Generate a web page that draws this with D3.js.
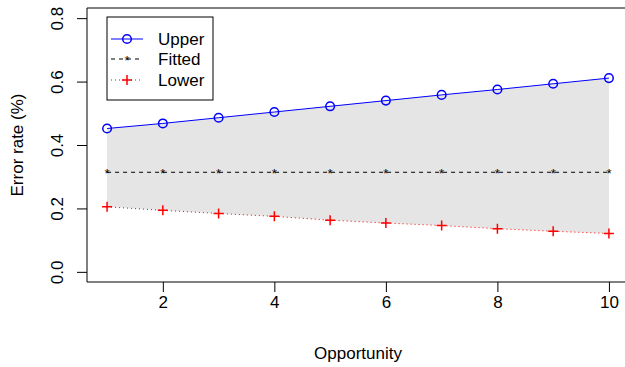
<!DOCTYPE html>
<html>
<head>
<meta charset="utf-8">
<script src="https://cdn.jsdelivr.net/npm/d3@7"></script>
<style>
  body { margin: 0; background: #fff; }
  text { font-family: "Liberation Sans", Arial, sans-serif; fill: #000; }
</style>
</head>
<body>
<div id="chart"></div>
<script>
// values
const opportunity = [1, 2, 3, 4, 5, 6, 7, 8, 9, 10];
const upper  = [0.452, 0.468, 0.486, 0.504, 0.522, 0.540, 0.558, 0.575, 0.593, 0.611];
const fitted = [0.314, 0.314, 0.314, 0.314, 0.314, 0.314, 0.314, 0.314, 0.314, 0.314];
const lower  = [0.205, 0.194, 0.184, 0.175, 0.163, 0.154, 0.146, 0.136, 0.128, 0.121];
const xTicks = [2, 4, 6, 8, 10];
const yTicks = [0.0, 0.2, 0.4, 0.6, 0.8];
const legendLabels = ["Upper", "Fitted", "Lower"];

const width = 625, height = 367;
const margin = { top: 8, right: -4, bottom: 85, left: 87 };
const fontSize = "17px";

const svg = d3.select("#chart").append("svg")
    .attr("width", width)
    .attr("height", height);

// R style padding of 4% on both axes
const xScale = d3.scaleLinear()
    .domain([0.64, 10.36])
    .range([margin.left, width - margin.right]);

const yScale = d3.scaleLinear()
    .domain([-0.032, 0.832])
    .range([height - margin.bottom, margin.top]);

// grey band between lower and upper
const band = d3.area()
    .x((d, i) => xScale(opportunity[i]))
    .y0((d, i) => yScale(lower[i]))
    .y1(d => yScale(d));

svg.append("path")
    .datum(upper)
    .attr("d", band)
    .attr("fill", "#e5e5e5");

const line = d3.line()
    .x((d, i) => xScale(opportunity[i]))
    .y(d => yScale(d));

// fitted
svg.append("path")
    .datum(fitted)
    .attr("d", line)
    .attr("fill", "none")
    .attr("stroke", "#000")
    .attr("stroke-width", 1)
    .attr("stroke-dasharray", "4,4");

svg.selectAll(".star")
    .data(fitted)
    .enter().append("text")
    .attr("class", "star")
    .attr("x", (d, i) => xScale(opportunity[i]))
    .attr("y", d => yScale(d) + 6)
    .attr("text-anchor", "middle")
    .style("font-size", "13px")
    .text("*");

// lower
svg.append("path")
    .datum(lower)
    .attr("d", line)
    .attr("fill", "none")
    .attr("stroke", "red")
    .attr("stroke-width", 1)
    .attr("stroke-dasharray", "1,3");

function drawPlus(g, x, y) {
    g.append("path")
        .attr("d", `M${x - 5},${y}H${x + 5}M${x},${y - 5}V${y + 5}`)
        .attr("stroke", "red")
        .attr("stroke-width", 1.5)
        .attr("fill", "none");
}
const plusG = svg.append("g");
lower.forEach((d, i) => drawPlus(plusG, xScale(opportunity[i]), yScale(d)));

// upper
svg.append("path")
    .datum(upper)
    .attr("d", line)
    .attr("fill", "none")
    .attr("stroke", "blue")
    .attr("stroke-width", 1);

svg.selectAll(".dot")
    .data(upper)
    .enter().append("circle")
    .attr("class", "dot")
    .attr("cx", (d, i) => xScale(opportunity[i]))
    .attr("cy", d => yScale(d))
    .attr("r", 4.3)
    .attr("fill", "none")
    .attr("stroke", "blue")
    .attr("stroke-width", 1.5);

// axes
const xAxis = svg.append("g")
    .attr("transform", `translate(0, ${height - margin.bottom})`)
    .call(d3.axisBottom(xScale).tickValues(xTicks).tickSize(10).tickPadding(4).tickFormat(d3.format("d")));
xAxis.select(".domain").attr("d", `M${margin.left},0H${width + 10}`);

const yAxis = svg.append("g")
    .attr("transform", `translate(${margin.left}, 0)`)
    .call(d3.axisLeft(yScale).tickValues(yTicks).tickSize(10).tickFormat(d3.format(".1f")));
yAxis.select(".domain").attr("d", `M0,${margin.top}V${height - margin.bottom}`);
yAxis.selectAll(".tick text")
    .attr("transform", "rotate(-90)")
    .attr("x", 0)
    .attr("y", -24)
    .attr("dy", 0)
    .attr("text-anchor", "middle");

svg.selectAll(".tick text").style("font-size", fontSize).style("font-family", "Liberation Sans, Arial, sans-serif");
svg.selectAll(".domain, .tick line").attr("stroke", "#000");

// top border of the plot box
svg.append("line")
    .attr("x1", margin.left).attr("x2", width + 10)
    .attr("y1", margin.top).attr("y2", margin.top)
    .attr("stroke", "#000");

// axis titles
svg.append("text")
    .attr("x", (xScale(1) + xScale(10)) / 2)
    .attr("y", 359)
    .attr("text-anchor", "middle")
    .style("font-size", fontSize)
    .text("Opportunity");

svg.append("text")
    .attr("transform", `translate(23, ${(margin.top + height - margin.bottom) / 2}) rotate(-90)`)
    .attr("text-anchor", "middle")
    .style("font-size", fontSize)
    .text("Error rate (%)");

// legend
const legend = svg.append("g");
legend.append("rect")
    .attr("x", 107).attr("y", 17)
    .attr("width", 106).attr("height", 83)
    .attr("fill", "#fff")
    .attr("stroke", "#000");

const rowY = [39, 59, 80];
legendLabels.forEach((lab, i) => {
    const y = rowY[i];
    const ln = legend.append("line")
        .attr("x1", 111).attr("x2", 143)
        .attr("y1", y).attr("y2", y)
        .attr("stroke-width", 1);
    if (i === 0) {
        ln.attr("stroke", "blue");
        legend.append("circle").attr("cx", 127).attr("cy", y).attr("r", 4.3)
            .attr("fill", "none").attr("stroke", "blue").attr("stroke-width", 1.5);
    } else if (i === 1) {
        ln.attr("stroke", "#000").attr("stroke-dasharray", "4,4");
        legend.append("text").attr("x", 127).attr("y", y + 6)
            .attr("text-anchor", "middle").style("font-size", "13px").text("*");
    } else {
        ln.attr("stroke", "red").attr("stroke-dasharray", "1,3");
        drawPlus(legend, 127, y);
    }
    legend.append("text")
        .attr("x", 158).attr("y", y + 6)
        .style("font-size", fontSize)
        .text(lab);
});
</script>
</body>
</html>
